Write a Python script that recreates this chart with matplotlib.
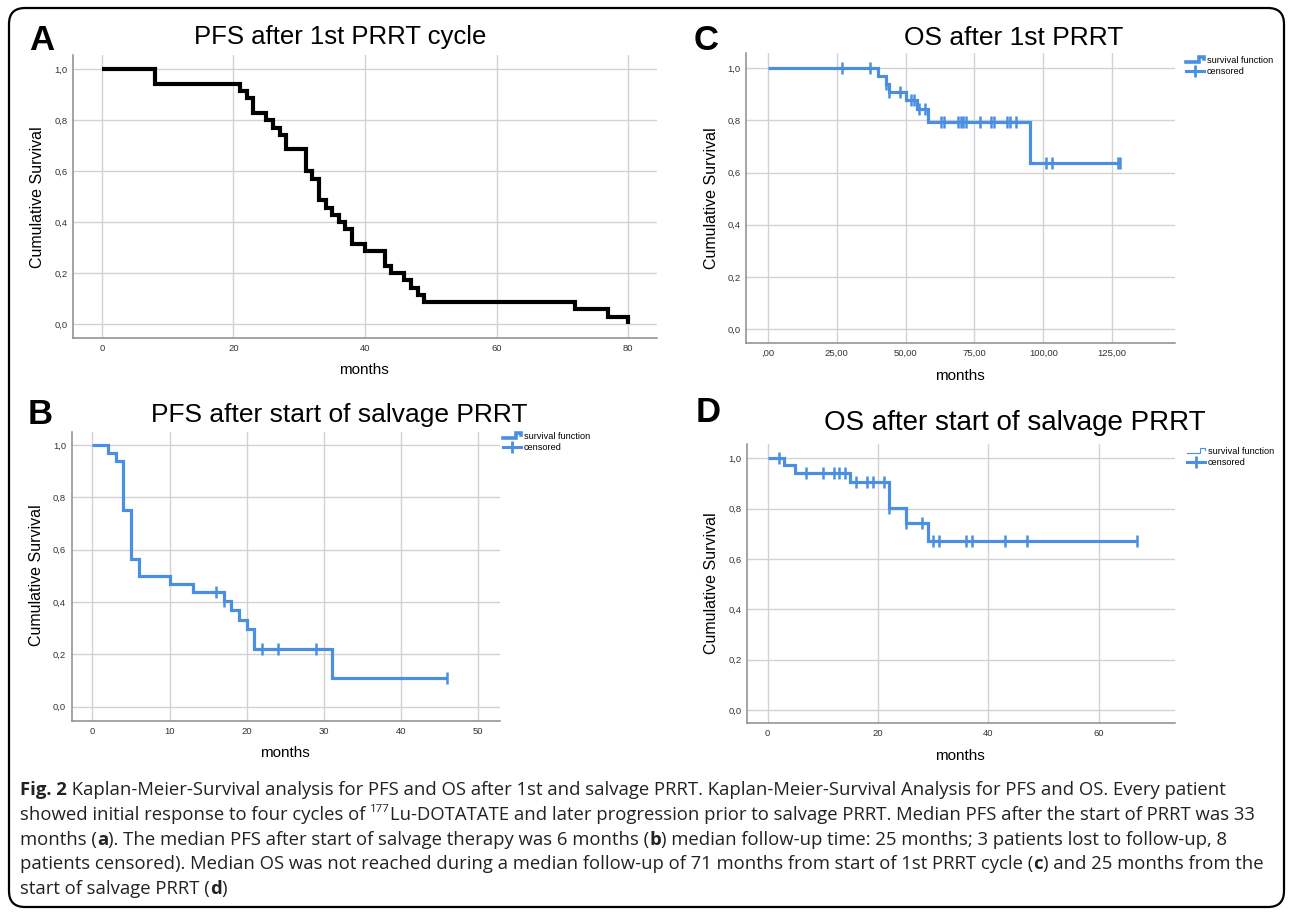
import matplotlib
matplotlib.use('Agg')
import matplotlib.pyplot as plt
from matplotlib.lines import Line2D
from matplotlib.patches import FancyBboxPatch
from matplotlib.transforms import IdentityTransform
from matplotlib.font_manager import FontProperties
from matplotlib.legend_handler import HandlerBase

# ---- data (months, cumulative survival) ----
# A: PFS after 1st PRRT cycle
pfs1_t = [0, 8, 21, 22, 23, 25, 26, 27, 28, 31, 32, 33, 34, 35, 36, 37, 38, 40, 43, 44, 46, 47, 48, 49, 72, 77, 80]
pfs1_s = [1.0, 0.943, 0.914, 0.886, 0.829, 0.8, 0.771, 0.743, 0.686, 0.6, 0.571, 0.486, 0.457, 0.429,
          0.4, 0.371, 0.314, 0.286, 0.229, 0.2, 0.171, 0.143, 0.114, 0.086, 0.057, 0.029, 0.0]

# B: PFS after start of salvage PRRT
pfs2_t = [0, 2, 3, 4, 5, 6, 10, 13, 17, 18, 19, 20, 21, 31]
pfs2_s = [1.0, 0.969, 0.938, 0.75, 0.563, 0.5, 0.469, 0.438, 0.404, 0.370, 0.333, 0.296, 0.222, 0.111]
pfs2_end = 46
pfs2_cens_t = [16, 17, 22, 24, 29, 46]
pfs2_cens_s = [0.438, 0.404, 0.222, 0.222, 0.222, 0.111]

# C: OS after 1st PRRT
os1_t = [0, 40, 43, 44, 50, 54, 58, 95]
os1_s = [1.0, 0.969, 0.94, 0.909, 0.877, 0.843, 0.795, 0.636]
os1_end = 128
os1_cens_t = [27, 37, 43, 44, 48, 52, 53, 55, 57, 63, 64, 69, 70, 71, 72, 77, 81, 82, 87, 88, 90, 101, 103, 127, 128]
os1_cens_s = [1.0, 1.0, 0.94, 0.909, 0.909, 0.877, 0.877, 0.843, 0.843, 0.795, 0.795, 0.795, 0.795, 0.795,
              0.795, 0.795, 0.795, 0.795, 0.795, 0.795, 0.795, 0.636, 0.636, 0.636, 0.636]

# D: OS after start of salvage PRRT
os2_t = [0, 3, 5, 15, 22, 25, 29]
os2_s = [1.0, 0.972, 0.943, 0.905, 0.804, 0.744, 0.670]
os2_end = 67
os2_cens_t = [2, 7, 10, 12, 13, 14, 16, 18, 19, 21, 22, 25, 28, 30, 31, 36, 37, 43, 47, 67]
os2_cens_s = [1.0, 0.943, 0.943, 0.943, 0.943, 0.943, 0.905, 0.905, 0.905, 0.905, 0.804, 0.744, 0.744,
              0.670, 0.670, 0.670, 0.670, 0.670, 0.670, 0.670]

y_ticks = [0.0, 0.2, 0.4, 0.6, 0.8, 1.0]
y_ticklabels = ['0,0', '0,2', '0,4', '0,6', '0,8', '1,0']

W, H = 1292, 913
BLUE = '#4a8fe2'
GRID = '#d2d2d2'
SPINE = '#8c8c8c'
SANS = ['Liberation Sans', 'DejaVu Sans']
CAPFONT = ['Open Sans', 'DejaVu Sans']

fig = plt.figure(figsize=(W / 100, H / 100), dpi=100)
fig.patch.set_facecolor('white')


def ax_px(l, t, r, b):
    # pixel box -> axes
    return fig.add_axes([l / W, 1 - b / H, (r - l) / W, (b - t) / H])


def fx(x):
    return x / W


def fy(y):
    return 1 - y / H


def style_ax(ax, xlim, ylim, xticks, xticklabels):
    ax.set_xlim(*xlim)
    ax.set_ylim(*ylim)
    ax.set_xticks(xticks)
    ax.set_xticklabels(xticklabels)
    ax.set_yticks(y_ticks)
    ax.set_yticklabels(y_ticklabels)
    for s in ['top', 'right']:
        ax.spines[s].set_visible(False)
    for s in ['left', 'bottom']:
        ax.spines[s].set_color(SPINE)
        ax.spines[s].set_linewidth(1.1)
    ax.grid(True, color=GRID, linewidth=1.0)
    ax.set_axisbelow(True)
    ax.tick_params(length=0, labelsize=6.8, colors='#333333')
    ax.tick_params(axis='x', pad=4)
    ax.tick_params(axis='y', pad=4)
    for lab in ax.get_xticklabels() + ax.get_yticklabels():
        lab.set_family(SANS)


class StepHandler(HandlerBase):
    # little step icon like SPSS legend
    def create_artists(self, legend, orig_handle, xdescent, ydescent, width, height, fontsize, trans):
        x0 = -xdescent
        y0 = -ydescent
        xs = [x0, x0 + 0.72 * width, x0 + 0.72 * width, x0 + width, x0 + width]
        ys = [y0 + 0.2 * height, y0 + 0.2 * height, y0 + 0.9 * height, y0 + 0.9 * height, y0 + 0.55 * height]
        ln = Line2D(xs, ys, color=orig_handle.get_color(), lw=orig_handle.get_linewidth(),
                    solid_joinstyle='miter', transform=trans)
        return [ln]


def add_legend(ax, x, y, step_lw):
    h1 = Line2D([], [], color=BLUE, lw=step_lw)
    h2 = Line2D([], [], color=BLUE, lw=2.2, marker='|', markersize=9, mew=2)
    ax.legend([h1, h2], ['survival function', 'censored'], handler_map={h1: StepHandler()},
              loc='upper left', bbox_to_anchor=(fx(x), fy(y)), bbox_transform=fig.transFigure,
              frameon=False, prop=FontProperties(family=SANS, size=6.6), handlelength=2.0,
              handletextpad=0.25, labelspacing=0.25, borderpad=0, borderaxespad=0)


def headings(letter, lx, ly, title, tx, ty, tsize, ylx, yly, xlx, xly):
    fig.text(fx(lx), fy(ly), letter, fontsize=25, fontweight='bold', family=SANS, ha='center', va='center')
    fig.text(fx(tx), fy(ty), title, fontsize=tsize, family=SANS, ha='center', va='center')
    fig.text(fx(ylx), fy(yly), 'Cumulative Survival', fontsize=11.5, family=SANS, rotation=90,
             ha='center', va='center')
    fig.text(fx(xlx), fy(xly), 'months', fontsize=11, family=SANS, ha='center', va='center')


# ---- A ----
axA = ax_px(73, 55, 657, 338)
axA.step(pfs1_t, pfs1_s, where='post', color='black', lw=3.0, solid_joinstyle='miter', solid_capstyle='butt')
style_ax(axA, (-4.4, 84.4), (-0.055, 1.056), [0, 20, 40, 60, 80], ['0', '20', '40', '60', '80'])
headings('A', 42, 40, 'PFS after 1st PRRT cycle', 340, 37, 18.5, 38, 197, 364, 370)

# ---- B ----
axB = ax_px(71.5, 432, 500, 721)
axB.step(pfs2_t + [pfs2_end], pfs2_s + [pfs2_s[-1]], where='post', color=BLUE, lw=2.3,
         solid_joinstyle='miter', solid_capstyle='butt')
axB.plot(pfs2_cens_t, pfs2_cens_s, ls='none', marker='|', markersize=9, mew=1.8, color=BLUE)
style_ax(axB, (-2.7, 52.8), (-0.055, 1.05), [0, 10, 20, 30, 40, 50], ['0', '10', '20', '30', '40', '50'])
headings('B', 40, 414, 'PFS after start of salvage PRRT', 339, 415, 19, 37, 575, 285, 753)
add_legend(axB, 503, 432, 2.6)

# ---- C ----
axC = ax_px(746, 53, 1175, 343)
axC.step(os1_t + [os1_end], os1_s + [os1_s[-1]], where='post', color=BLUE, lw=2.3,
         solid_joinstyle='miter', solid_capstyle='butt')
axC.plot(os1_cens_t, os1_cens_s, ls='none', marker='|', markersize=8, mew=1.8, color=BLUE)
style_ax(axC, (-7.9, 147.8), (-0.052, 1.057), [0, 25, 50, 75, 100, 125],
         [',00', '25,00', '50,00', '75,00', '100,00', '125,00'])
headings('C', 706, 40, 'OS after 1st PRRT', 1014, 38, 19, 712, 198, 960, 376)
add_legend(axC, 1186, 56, 2.6)

# ---- D ----
axD = ax_px(747, 444, 1175, 723)
axD.step(os2_t + [os2_end], os2_s + [os2_s[-1]], where='post', color=BLUE, lw=2.3,
         solid_joinstyle='miter', solid_capstyle='butt')
axD.plot(os2_cens_t, os2_cens_s, ls='none', marker='|', markersize=8, mew=1.8, color=BLUE)
style_ax(axD, (-3.75, 73.8), (-0.052, 1.057), [0, 20, 40, 60], ['0', '20', '40', '60'])
headings('D', 708, 413, 'OS after start of salvage PRRT', 1015, 423, 20, 712, 583, 960, 756)
add_legend(axD, 1187, 447, 0.8)

# ---- caption (runs of normal / bold / superscript text) ----
cap_lines = [
    [('Fig. 2', 'b'), (' Kaplan-Meier-Survival analysis for PFS and OS after 1st and salvage PRRT. '
                       'Kaplan-Meier-Survival Analysis for PFS and OS. Every patient', 'n')],
    [('showed initial response to four cycles of ', 'n'), ('177', 's'),
     ('Lu-DOTATATE and later progression prior to salvage PRRT. Median PFS after the start of PRRT was 33', 'n')],
    [('months (', 'n'), ('a', 'b'), ('). The median PFS after start of salvage therapy was 6 months (', 'n'),
     ('b', 'b'), (') median follow-up time: 25 months; 3 patients lost to follow-up, 8', 'n')],
    [('patients censored). Median OS was not reached during a median follow-up of 71 months from start of '
      '1st PRRT cycle (', 'n'), ('c', 'b'), (') and 25 months from the', 'n')],
    [('start of salvage PRRT (', 'n'), ('d', 'b'), (')', 'n')],
]
cap_base = [795, 820, 845, 869, 894]
cap_target = [1244, 1244, 1220, 1236, None]   # widths in the picture

renderer = fig.canvas.get_renderer()


def run_props(kind, size):
    if kind == 'b':
        return FontProperties(family=CAPFONT, size=size, weight='bold')
    if kind == 's':
        return FontProperties(family=CAPFONT, size=size * 0.62)
    return FontProperties(family=CAPFONT, size=size)


def run_width(s, fp):
    w1 = renderer.get_text_width_height_descent('|' + s + '|', fp, ismath=False)[0]
    w0 = renderer.get_text_width_height_descent('||', fp, ismath=False)[0]
    return w1 - w0


# fit font size so the longest lines span like in the picture
base = 12.0
ratios = []
for line, tw in zip(cap_lines, cap_target):
    if tw is None:
        continue
    w = sum(run_width(s, run_props(k, base)) for s, k in line)
    ratios.append(tw / w)
cap_size = base * min(ratios)

for line, yb in zip(cap_lines, cap_base):
    x = 20
    for s, k in line:
        fp = run_props(k, cap_size)
        dy = cap_size * 100 / 72 * 0.42 if k == 's' else 0
        fig.text(fx(x), fy(yb - dy), s, fontproperties=fp, ha='left', va='baseline', color='#222222')
        x += run_width(s, fp)

# rounded frame around the whole figure
frame = FancyBboxPatch((9, H - 907), 1275, 899, boxstyle='round,pad=0,rounding_size=16',
                       transform=IdentityTransform(), facecolor='none', edgecolor='black', linewidth=1.6)
fig.add_artist(frame)

fig.savefig('out.png', dpi=100)
